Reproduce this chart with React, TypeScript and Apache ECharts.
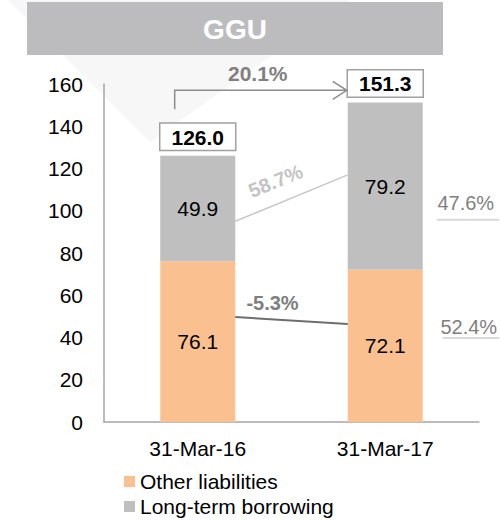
import React, { useEffect, useRef } from "react";
import * as echarts from "echarts";

const categories = ["31-Mar-16", "31-Mar-17"];
const otherLiabilities = [76.1, 72.1];
const longTermBorrowing = [49.9, 79.2];
const totals = [126.0, 151.3];
const yTicks = { min: 0, max: 160, interval: 20 };
const growthLabel = "20.1%";
const longTermChange = "58.7%";
const otherChange = "-5.3%";
const shareLongTerm = "47.6%";
const shareOther = "52.4%";
// annotation anchor values (in axis units)
const growthArrowY = [148, 157];
const longTermLineY = [95, 117];
const otherLineY = [49.7, 46.4];
const shareLongTermY = [103.7, 95.7];
const shareOtherY = [45, 39.8];

const FONT = "'Liberation Sans', Arial, sans-serif";
const ORANGE = "#FAC090";
const GRAY = "#BFBFBF";
const FS = 21;

export default function App() {
  const ref = useRef<HTMLDivElement>(null);
  useEffect(() => {
    if (!ref.current) return;
    const chart = echarts.init(ref.current, null, { renderer: "svg" });
    const option: any = {
      animation: false,
      textStyle: { fontFamily: FONT },
      grid: { left: 104, right: 21, top: 84, bottom: 98, containLabel: false },
      legend: {
        data: ["Other liabilities", "Long-term borrowing"],
        orient: "vertical",
        left: 124,
        top: 471,
        itemWidth: 11,
        itemHeight: 11,
        itemGap: 4,
        padding: 0,
        icon: "rect",
        textStyle: { fontSize: FS, color: "#000", fontFamily: FONT },
      },
      xAxis: {
        type: "category",
        data: categories,
        axisLine: { lineStyle: { color: "#A6A6A6", width: 1.5 } },
        axisTick: { show: false },
        axisLabel: { fontSize: FS, color: "#000", margin: 16, fontFamily: FONT },
      },
      yAxis: {
        type: "value",
        min: yTicks.min,
        max: yTicks.max,
        interval: yTicks.interval,
        axisLine: { show: true, lineStyle: { color: "#A6A6A6", width: 1.5 } },
        axisTick: { show: false },
        splitLine: { show: false },
        axisLabel: { fontSize: FS, color: "#000", margin: 21, fontFamily: FONT },
      },
      series: [
        {
          name: "Other liabilities",
          type: "bar",
          stack: "t",
          barWidth: "40%",
          barGap: "-100%",
          data: otherLiabilities,
          itemStyle: { color: ORANGE },
          label: {
            show: true,
            position: "inside",
            fontSize: FS,
            color: "#000",
            formatter: (p: any) => p.value.toFixed(1),
          },
        },
        {
          name: "Long-term borrowing",
          type: "bar",
          stack: "t",
          barWidth: "40%",
          barGap: "-100%",
          data: longTermBorrowing,
          itemStyle: { color: GRAY },
          label: {
            show: true,
            position: "inside",
            fontSize: FS,
            color: "#000",
            formatter: (p: any) => p.value.toFixed(1),
          },
        },
        {
          name: "Total",
          type: "bar",
          barWidth: "40%",
          barGap: "-100%",
          data: totals,
          silent: true,
          itemStyle: { color: "transparent" },
          label: {
            show: true,
            position: "top",
            distance: 6,
            fontSize: 21,
            fontWeight: "bold",
            color: "#000",
            backgroundColor: "#fff",
            borderColor: "#A0A0A0",
            borderWidth: 1.5,
            padding: [3, 11, 2, 11],
            lineHeight: 21,
            formatter: (p: any) => p.value.toFixed(1),
          },
        },
      ],
    };
    chart.setOption(option);

    const px = (ci: number, v: number) =>
      chart.convertToPixel({ gridIndex: 0 }, [ci, v]) as number[];
    const c0 = px(0, 0);
    const c1 = px(1, 0);
    const band = c1[0] - c0[0];
    const half = band * 0.2;
    const b0Right = c0[0] + half;
    const b1Left = c1[0] - half;
    const b1Right = c1[0] + half;

    const aStart = px(0, growthArrowY[0]);
    const aTop = px(0, growthArrowY[1]);
    const ax = c0[0] - band * 0.123;
    const tipX = b1Left - 1;

    const lt0 = px(0, longTermLineY[0])[1];
    const lt1 = px(1, longTermLineY[1])[1];
    const ot0 = px(0, otherLineY[0])[1];
    const ot1 = px(1, otherLineY[1])[1];
    const ang = Math.atan2(lt0 - lt1, b1Left - b0Right);

    const sL = [px(1, shareLongTermY[0])[1], px(1, shareLongTermY[1])[1]];
    const sO = [px(1, shareOtherY[0])[1], px(1, shareOtherY[1])[1]];
    const shareX = b1Right + 45;

    chart.setOption({
      graphic: [
        {
          type: "polygon",
          z: -10,
          silent: true,
          shape: { points: [[8, 0], [350, 0], [150, 142]] },
          style: { fill: "#F7F7F7" },
        },
        {
          type: "rect",
          z: 1,
          shape: { x: 27, y: 2, width: 416, height: 53 },
          style: { fill: "#BCBCBE" },
        },
        {
          type: "text",
          z: 2,
          x: 235,
          y: 29,
          style: {
            text: "GGU",
            fill: "#fff",
            font: `bold 28px ${FONT}`,
            align: "center",
            verticalAlign: "middle",
          },
        },
        {
          type: "polyline",
          z: 5,
          shape: { points: [[ax, aStart[1]], [ax, aTop[1]], [tipX, aTop[1]]] },
          style: { stroke: "#8C8C8C", lineWidth: 1.5, fill: "none" },
        },
        {
          type: "polyline",
          z: 5,
          shape: { points: [[tipX - 14, aTop[1] - 9], [tipX, aTop[1]], [tipX - 14, aTop[1] + 9]] },
          style: { stroke: "#8C8C8C", lineWidth: 1.5, fill: "none" },
        },
        {
          type: "text",
          z: 5,
          x: (ax + tipX) / 2 - 3,
          y: aTop[1] - 17,
          style: {
            text: growthLabel,
            fill: "#808080",
            font: `bold 21px ${FONT}`,
            align: "center",
            verticalAlign: "middle",
          },
        },
        {
          type: "line",
          z: 5,
          shape: { x1: b0Right, y1: lt0, x2: b1Left, y2: lt1 },
          style: { stroke: "#C8C8C8", lineWidth: 1.5 },
        },
        {
          type: "text",
          z: 5,
          x: (b0Right + b1Left) / 2 - 16,
          y: (lt0 + lt1) / 2 - 17,
          rotation: ang,
          style: {
            text: longTermChange,
            fill: "#C4C4C4",
            font: `bold 20px ${FONT}`,
            align: "center",
            verticalAlign: "middle",
          },
        },
        {
          type: "line",
          z: 5,
          shape: { x1: b0Right, y1: ot0, x2: b1Left, y2: ot1 },
          style: { stroke: "#6E6E6E", lineWidth: 2 },
        },
        {
          type: "text",
          z: 5,
          x: (b0Right + b1Left) / 2 - 19,
          y: ot0 - 14,
          style: {
            text: otherChange,
            fill: "#7F7F7F",
            font: `bold 20px ${FONT}`,
            align: "center",
            verticalAlign: "middle",
          },
        },
        {
          type: "text",
          z: 5,
          x: shareX - 2,
          y: sL[0],
          style: {
            text: shareLongTerm,
            fill: "#7F7F7F",
            font: `20px ${FONT}`,
            align: "center",
            verticalAlign: "middle",
          },
        },
        {
          type: "line",
          z: 5,
          shape: { x1: shareX - 31, y1: sL[1], x2: 499, y2: sL[1] },
          style: { stroke: "#D9D9D9", lineWidth: 2 },
        },
        {
          type: "text",
          z: 5,
          x: shareX + 1,
          y: sO[0],
          style: {
            text: shareOther,
            fill: "#7F7F7F",
            font: `20px ${FONT}`,
            align: "center",
            verticalAlign: "middle",
          },
        },
        {
          type: "line",
          z: 5,
          shape: { x1: shareX - 25, y1: sO[1], x2: 499, y2: sO[1] },
          style: { stroke: "#D9D9D9", lineWidth: 2 },
        },
      ],
    });

    return () => chart.dispose();
  }, []);
  return (
    <div
      ref={ref}
      style={{ position: "absolute", left: 0, top: 0, width: 500, height: 520 }}
    />
  );
}
